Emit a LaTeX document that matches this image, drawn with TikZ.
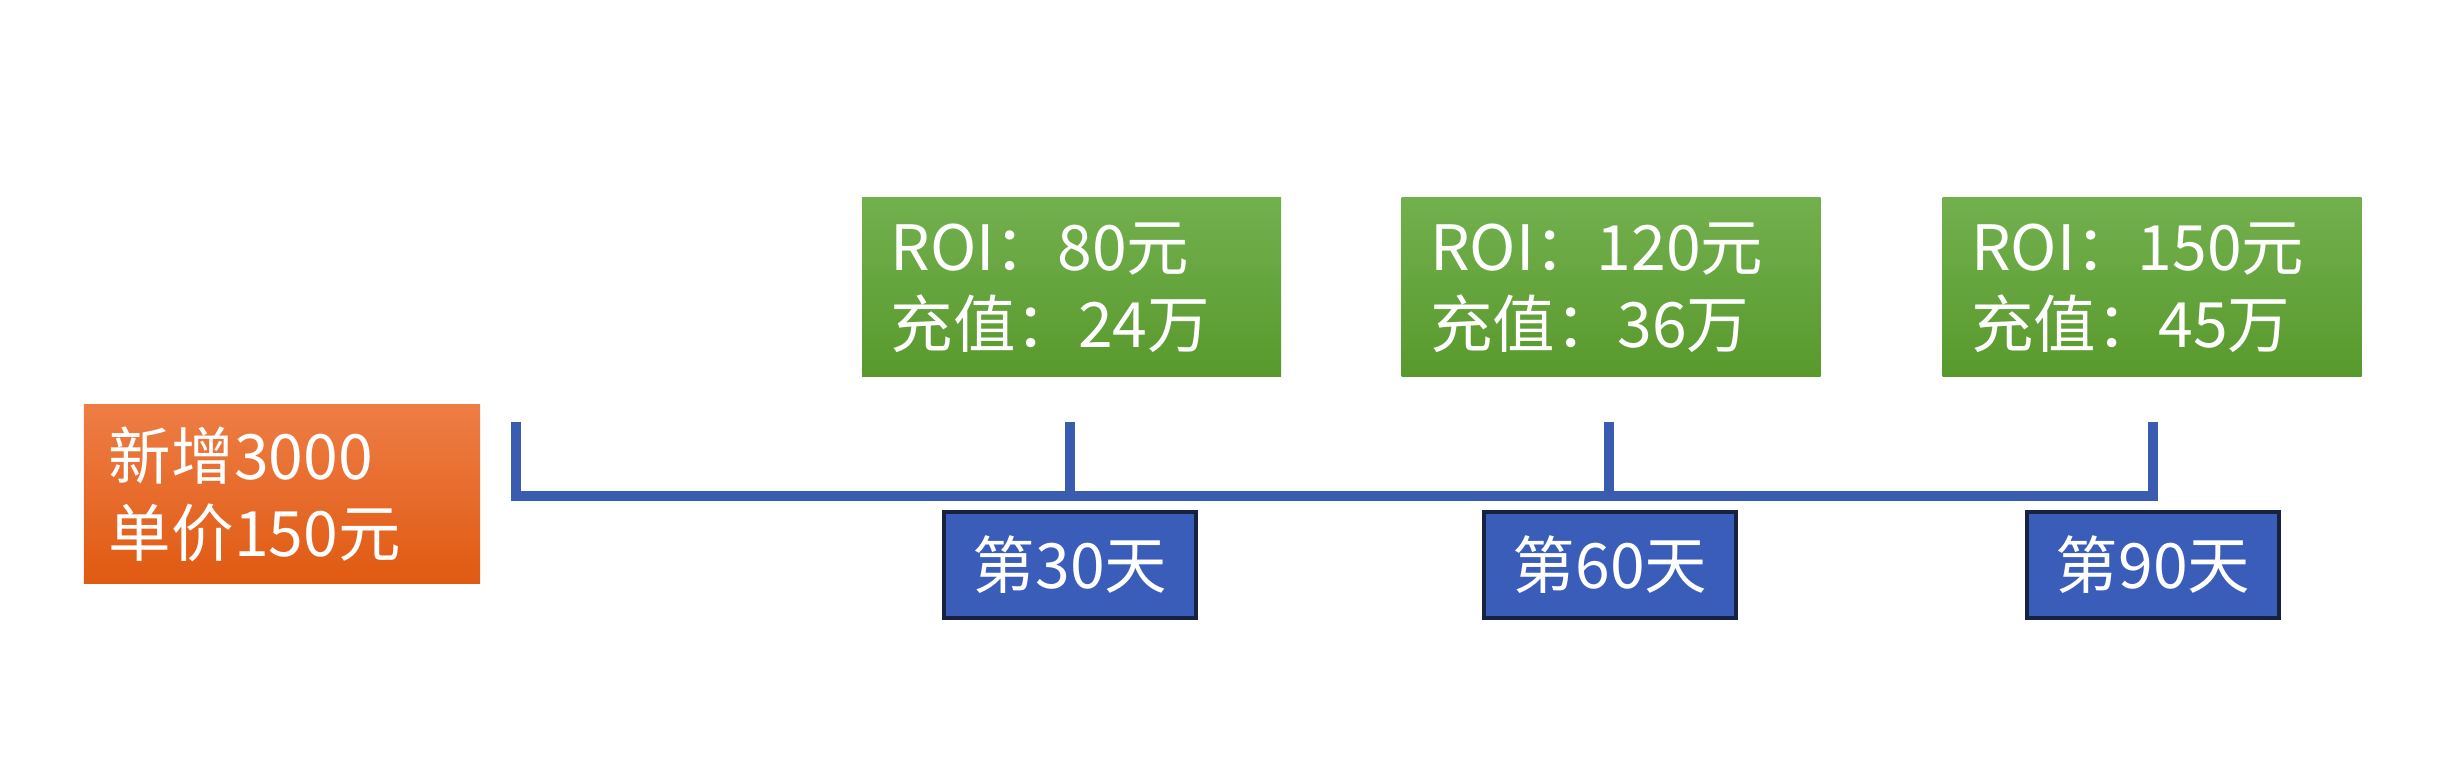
\documentclass[tikz,border=0pt]{standalone}
\usepackage{fontspec}
\setmainfont{Noto Sans CJK SC}
\definecolor{gtop}{HTML}{72B04E}
\definecolor{gbot}{HTML}{58992C}
\definecolor{otop}{HTML}{EE7D45}
\definecolor{obot}{HTML}{E05A12}
\definecolor{bfill}{HTML}{3A5DBA}
\definecolor{bdraw}{HTML}{16223F}
\definecolor{tline}{HTML}{3A5CB0}
\tikzset{
  txt/.style={text=white, font=\fontsize{25pt}{30.8pt}\selectfont},
  roibox/.style={txt, rectangle, top color=gtop, bottom color=gbot, draw=none,
    minimum width=167.6pt, minimum height=71.6pt, text width=144.8pt,
    inner xsep=11.4pt, inner ysep=0pt, align=left},
  newbox/.style={txt, rectangle, top color=otop, bottom color=obot, draw=none,
    minimum width=158.4pt, minimum height=71.2pt, text width=138.4pt,
    inner xsep=10pt, inner ysep=0pt, align=left},
  daybox/.style={txt, rectangle, fill=bfill, draw=bdraw, line width=1.6pt,
    minimum width=101pt, minimum height=42pt, inner sep=0pt},
  timeline/.style={draw=tline, line width=4pt, line join=miter}
}
\begin{document}
\begin{tikzpicture}[x=0.4pt, y=-0.4pt]
\useasboundingbox (0,0) rectangle (2450,764);
% start box
\node[newbox] (start) at (282,494) {新增3000\\单价150元};
% ROI boxes
\node[roibox] (r1) at (1071.5,287.5) {ROI：80元\\充值：24万};
\node[roibox] (r2) at (1611,287.5) {ROI：120元\\充值：36万};
\node[roibox] (r3) at (2152,287.5) {ROI：150元\\充值：45万};
% day boxes
\node[daybox] (d1) at (1070,565) {第30天};
\node[daybox] (d2) at (1610,565) {第60天};
\node[daybox] (d3) at (2153,565) {第90天};
% timeline
\coordinate (t0) at (516,422);
\coordinate (b0) at (516,496);
\coordinate (t1) at (1070,422);
\coordinate (b1) at (1070,496);
\coordinate (t2) at (1609,422);
\coordinate (b2) at (1609,496);
\coordinate (t3) at (2153,422);
\coordinate (b3) at (2153,496);
\draw[timeline] (t0) -- (b0) -- (b3) -- (t3);
\draw[timeline] (t1) -- (b1);
\draw[timeline] (t2) -- (b2);
\end{tikzpicture}
\end{document}
